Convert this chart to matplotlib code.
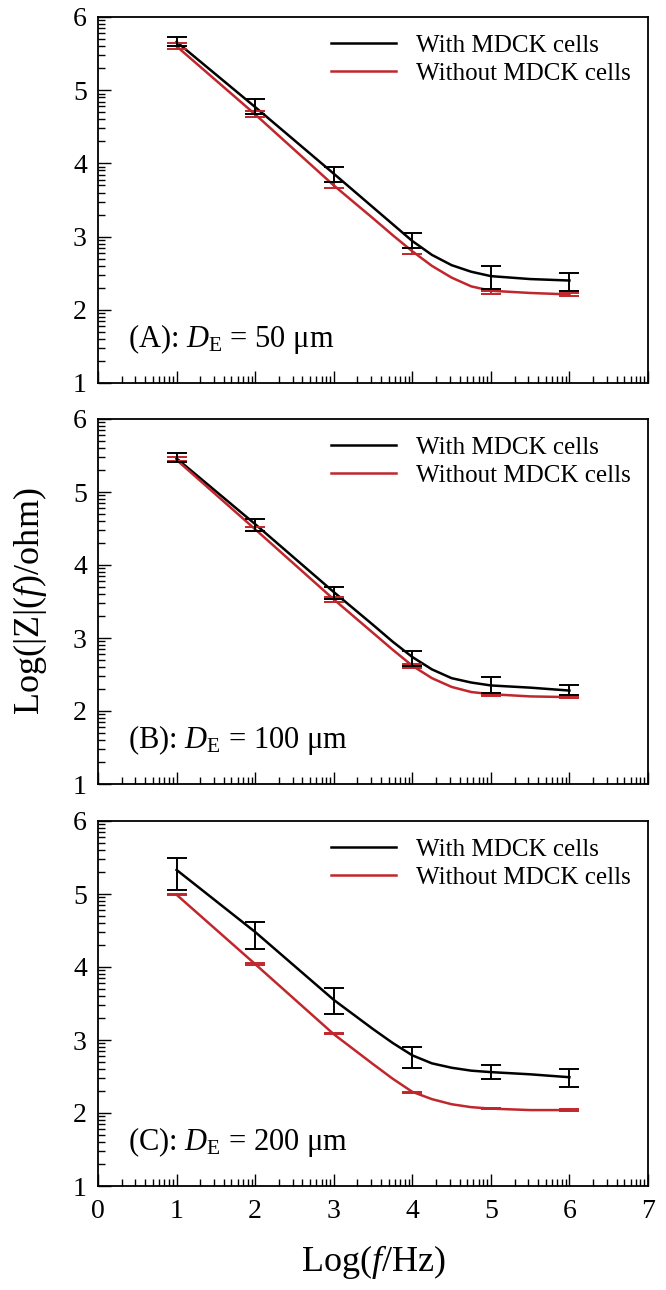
import matplotlib
matplotlib.use("Agg")
import matplotlib.pyplot as plt
from matplotlib.ticker import FixedLocator
import numpy as np

plt.rcParams['font.family'] = ['Liberation Serif', 'DejaVu Serif']
plt.rcParams['mathtext.fontset'] = 'custom'
plt.rcParams['mathtext.rm'] = 'Liberation Serif'
plt.rcParams['mathtext.it'] = 'Liberation Serif:italic'

# measured points (log f = 1..6)
x_pts = [1, 2, 3, 4, 5, 6]
# fitted curves
x_fit = [1, 2, 3, 3.5, 3.75, 4, 4.25, 4.5, 4.75, 5, 5.5, 6]

panel_labels = [r'(A): $D_{\mathrm{E}}$ = 50 μm',
                r'(B): $D_{\mathrm{E}}$ = 100 μm',
                r'(C): $D_{\mathrm{E}}$ = 200 μm']

# panel A
a_with = [5.67, 4.78, 3.85, 2.95, 2.44, 2.38]
a_with_err = [0.06, 0.10, 0.10, 0.10, 0.16, 0.12]
a_without = [5.60, 4.67, 3.70, 2.80, 2.24, 2.21]
a_without_err = [0.04, 0.04, 0.04, 0.04, 0.02, 0.02]
a_with_fit = [5.66, 4.77, 3.86, 3.40, 3.17, 2.94, 2.75, 2.61, 2.52, 2.46, 2.42, 2.40]
a_without_fit = [5.60, 4.67, 3.70, 3.25, 3.02, 2.80, 2.60, 2.44, 2.32, 2.26, 2.23, 2.21]

# panel B
b_with = [5.47, 4.55, 3.62, 2.72, 2.35, 2.29]
b_with_err = [0.06, 0.08, 0.08, 0.10, 0.11, 0.07]
b_without = [5.45, 4.49, 3.53, 2.62, 2.21, 2.19]
b_without_err = [0.03, 0.03, 0.03, 0.03, 0.01, 0.01]
b_with_fit = [5.46, 4.56, 3.63, 3.18, 2.95, 2.74, 2.57, 2.45, 2.39, 2.35, 2.32, 2.28]
b_without_fit = [5.44, 4.49, 3.53, 3.07, 2.84, 2.62, 2.45, 2.33, 2.26, 2.23, 2.20, 2.19]

# panel C
c_with = [5.28, 4.43, 3.53, 2.76, 2.56, 2.48]
c_with_err = [0.22, 0.19, 0.18, 0.15, 0.10, 0.12]
c_without = [4.99, 4.04, 3.09, 2.28, 2.06, 2.04]
c_without_err = [0.01, 0.01, 0.01, 0.01, 0.01, 0.01]
c_with_fit = [5.33, 4.48, 3.55, 3.15, 2.96, 2.79, 2.68, 2.62, 2.58, 2.56, 2.53, 2.49]
c_without_fit = [4.99, 4.04, 3.08, 2.67, 2.47, 2.29, 2.19, 2.12, 2.08, 2.06, 2.04, 2.04]

panels = [
    (a_with, a_with_err, a_without, a_without_err, a_with_fit, a_without_fit),
    (b_with, b_with_err, b_without, b_without_err, b_with_fit, b_without_fit),
    (c_with, c_with_err, c_without, c_without_err, c_with_fit, c_without_fit),
]

red = '#c0272d'
W, H = 666, 1290
fig = plt.figure(figsize=(W / 100, H / 100), dpi=100)

# pixel boxes (top, bottom) of each panel
boxes = [(17, 383), (419, 784), (821, 1186)]
left, right = 98, 648

minor_x = [n + np.log10(k) for n in range(0, 7) for k in range(2, 10)]
minor_y = [n + np.log10(k) for n in range(1, 6) for k in range(2, 10)]

for i, ((top, bot), data, lab) in enumerate(zip(boxes, panels, panel_labels)):
    w_pts, w_err, wo_pts, wo_err, w_fit, wo_fit = data
    ax = fig.add_axes([left / W, 1 - bot / H, (right - left) / W, (bot - top) / H])

    ax.plot(x_fit, w_fit, color='black', lw=1.8, label='With MDCK cells')
    ax.plot(x_fit, wo_fit, color=red, lw=1.8, label='Without MDCK cells')
    ax.errorbar(x_pts, wo_pts, yerr=wo_err, fmt='none', ecolor=red,
                elinewidth=1.4, capsize=7, capthick=1.4)
    ax.errorbar(x_pts, w_pts, yerr=w_err, fmt='none', ecolor='black',
                elinewidth=1.4, capsize=7, capthick=1.4)

    ax.set_xlim(0, 7)
    ax.set_ylim(1, 6)
    ax.set_yticks([1, 2, 3, 4, 5, 6])
    ax.set_xticks(range(0, 8))
    ax.xaxis.set_minor_locator(FixedLocator(minor_x))
    ax.yaxis.set_minor_locator(FixedLocator(minor_y))
    ax.tick_params(which='both', direction='in', top=False, right=False, width=1.0)
    ax.tick_params(which='major', length=9)
    ax.tick_params(which='minor', length=5)
    ax.tick_params(axis='y', labelsize=20, pad=8)
    ax.tick_params(axis='x', labelsize=20, pad=9)
    if i < 2:
        ax.tick_params(axis='x', labelbottom=False)
    for sp in ax.spines.values():
        sp.set_linewidth(1.3)

    ax.legend(loc='upper right', bbox_to_anchor=(1.0, 1.0), frameon=False,
              fontsize=18, handlelength=2.6, handletextpad=0.8,
              labelspacing=0.2, borderaxespad=0.3)
    ax.text(0.055, 0.12, lab, transform=ax.transAxes, fontsize=22,
            ha='left', va='center')

fig.text(373 / W, 1 - 1262 / H, r'Log($f$/Hz)', fontsize=26, ha='center', va='center')
fig.text(30 / W, 1 - 601 / H, r'Log(|Z|($f$)/ohm)', fontsize=26, ha='center',
         va='center', rotation=90)

fig.savefig('out.png', dpi=100)
